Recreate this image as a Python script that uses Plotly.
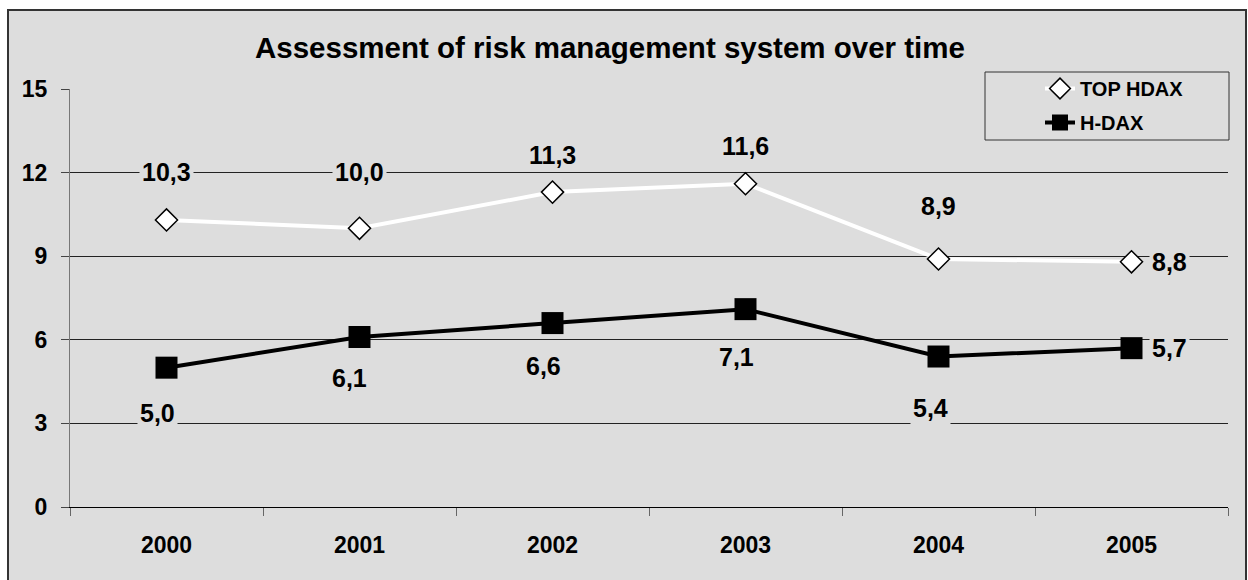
import plotly.graph_objects as go

# ---- data ----
years = ["2000", "2001", "2002", "2003", "2004", "2005"]
top_hdax = [10.3, 10.0, 11.3, 11.6, 8.9, 8.8]
h_dax = [5.0, 6.1, 6.6, 7.1, 5.4, 5.7]
y_ticks = [0, 3, 6, 9, 12, 15]
title_text = "Assessment of risk management system over time"
series_names = ["TOP HDAX", "H-DAX"]

# ---- layout geometry (pixels) ----
W, H = 1248, 580
L, R, T, B = 70, 1228, 89, 507
PW, PH = R - L, B - T
BG = "#DDDDDD"
FONT = "Liberation Sans, Arial, sans-serif"

def px_x(p):
    return (p - L) / PW

def px_y(p):
    return (B - p) / PH

fig = go.Figure()
fig.add_trace(go.Scatter(
    x=years, y=top_hdax, name=series_names[0], mode="lines+markers",
    line=dict(color="white", width=4),
    marker=dict(symbol="diamond", size=17, color="white",
                line=dict(color="black", width=1.5)),
    legendgroup="a",
))
fig.add_trace(go.Scatter(
    x=years, y=h_dax, name=series_names[1], mode="lines+markers",
    line=dict(color="black", width=4),
    marker=dict(symbol="square", size=22, color="black",
                line=dict(color="black", width=0)),
    legendgroup="b",
))

# data label offsets (pixels)
top_shift = [(0, 48), (0, 56), (0, 37), (0, 38), (0, 53), (38, 0)]
hdax_shift = [(-9, -45), (-10, -41), (-9, -43), (-9, -48), (-8, -51), (38, 0)]

annotations = []
for vals, shifts in ((top_hdax, top_shift), (h_dax, hdax_shift)):
    for i, (v, (dx, dy)) in enumerate(zip(vals, shifts)):
        annotations.append(dict(
            x=i, y=v, xref="x", yref="y",
            text=f"{v:.1f}".replace(".", ","),
            showarrow=False, xshift=dx, yshift=dy,
            font=dict(family=FONT, size=25, color="black", weight="bold"),
            bgcolor=BG, borderpad=2,
        ))

annotations.append(dict(
    x=px_x(610), y=px_y(47), xref="paper", yref="paper",
    text=title_text, showarrow=False, xanchor="center", yanchor="middle",
    font=dict(family=FONT, size=29.5, color="black", weight="bold"),
))

shapes = [
    # outer chart border / background
    dict(type="rect", xref="paper", yref="paper",
         x0=px_x(8), x1=px_x(1246), y0=px_y(590), y1=px_y(10),
         fillcolor=BG, line=dict(color="#333333", width=2), layer="below"),
    # legend box
    dict(type="rect", xref="paper", yref="paper",
         x0=px_x(985), x1=px_x(1229), y0=px_y(140), y1=px_y(72),
         fillcolor=BG, line=dict(color="#333333", width=1), layer="above"),
]

fig.update_layout(
    width=W, height=H,
    margin=dict(l=L, r=W - R, t=T, b=H - B, autoexpand=False),
    paper_bgcolor="white", plot_bgcolor=BG,
    font=dict(family=FONT, color="black"),
    showlegend=True,
    legend=dict(
        x=px_x(1040), y=px_y(69), xanchor="left", yanchor="top",
        bgcolor="rgba(0,0,0,0)", borderwidth=0,
        font=dict(family=FONT, size=20, color="black", weight="bold"),
        tracegroupgap=5,
    ),
    annotations=annotations,
    shapes=shapes,
    xaxis=dict(
        type="category", range=[-0.5, len(years) - 0.5],
        showline=True, linecolor="black", linewidth=1,
        ticks="outside", tickson="boundaries", ticklen=8,
        tickcolor="#666666", showgrid=False, zeroline=False,
        tickfont=dict(family=FONT, size=23, color="black", weight="bold"),
        ticklabelstandoff=17,
    ),
    yaxis=dict(
        range=[0, 15], tickvals=y_ticks,
        showline=True, linecolor="#777777", linewidth=1,
        ticks="outside", ticklen=8, tickcolor="#444444",
        showgrid=True, gridcolor="#222222", gridwidth=1, zeroline=False,
        tickfont=dict(family=FONT, size=23, color="black", weight="bold"),
        ticklabelstandoff=9,
    ),
)

fig.write_html("out.html", config={"displayModeBar": False},
               post_script="document.body.style.margin='0';")
